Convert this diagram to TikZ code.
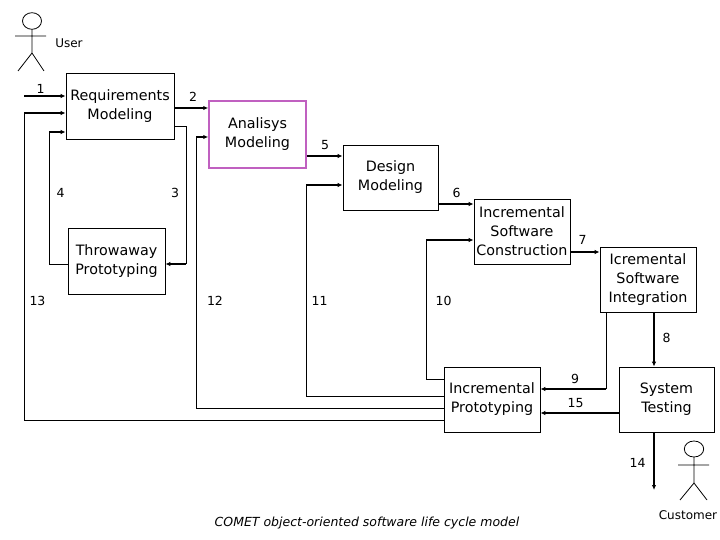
\documentclass[tikz,border=0pt]{standalone}
\usepackage{fontspec}
\setmainfont{DejaVu Sans}
\usepackage{tikz}
\usetikzlibrary{arrows.meta,positioning}
\definecolor{analine}{RGB}{192,96,192}

\begin{document}
\begin{tikzpicture}[x=1pt,y=-1pt,
  box/.style={draw,line width=0.8pt,rectangle,align=center,inner sep=0pt,
    font=\fontsize{14.3}{19}\selectfont},
  flow/.style={line width=1.5pt,-{Latex[length=5pt,width=4.5pt]}},
  link/.style={line width=0.8pt},
  num/.style={font=\fontsize{12.5}{14}\selectfont},
  figure/.style={line width=0.8pt}]
\useasboundingbox (0,0) rectangle (720,540);
% boxes
\node[box,minimum width=108pt,minimum height=66pt] (req) at (120,106) {Requirements\\Modeling};
\node[box,draw=analine,line width=1.5pt,minimum width=97pt,minimum height=67pt] (ana) at (257.5,134.5) {Analisys\\Modeling};
\node[box,minimum width=95pt,minimum height=65pt] (des) at (390.5,177.5) {Design\\Modeling};
\node[box,minimum width=96pt,minimum height=65pt] (isc) at (522,231.5) {Incremental\\Software\\Construction};
\node[box,minimum width=96pt,minimum height=65pt] (isi) at (648,279.5) {Icremental\\Software\\Integration};
\node[box,minimum width=97pt,minimum height=66pt] (thr) at (116.5,261) {Throwaway\\Prototyping};
\node[box,minimum width=96pt,minimum height=65pt] (ip) at (492,399.5) {Incremental\\Prototyping};
\node[box,minimum width=95pt,minimum height=65pt] (st) at (666.5,399.5) {System\\Testing};
% bend points
\coordinate (in1) at (24,96);
\coordinate (c3) at (186,264);
\coordinate (c4) at (49,132);
\coordinate (c9) at (606,389);
\coordinate (c10) at (426,240);
\coordinate (c11) at (306,185);
\coordinate (c12) at (196,137);
\coordinate (c13) at (24,113);
\coordinate (out14) at (654,490);
% forward flow
\draw[flow] (in1) -- (req.west |- in1);
\draw[flow] (req.east |- 0,108) -- (ana.west |- 0,108);
\draw[flow] (ana.east |- 0,156) -- (des.west |- 0,156);
\draw[flow] (des.east |- 0,204) -- (isc.west |- 0,204);
\draw[flow] (isc.east |- 0,252) -- (isi.west |- 0,252);
\draw[flow] (isi.south -| out14) -- (st.north -| out14);
\draw[flow] (st.south -| out14) -- (out14);
\draw[flow] (st.west |- 0,413) -- (ip.east |- 0,413);
% throwaway loop
\draw[link] (req.east |- 0,126) -| (c3);
\draw[flow] (c3) -- (thr.east |- c3);
\draw[link] (thr.west |- c3) -| (c4);
\draw[flow] (c4) -- (req.west |- c4);
% feedback
\draw[link] (isi.south -| c9) |- (c9);
\draw[flow] (c9) -- (ip.east |- c9);
\draw[link] (ip.west |- 0,379) -| (c10);
\draw[flow] (c10) -- (isc.west |- c10);
\draw[link] (ip.west |- 0,396) -| (c11);
\draw[flow] (c11) -- (des.west |- c11);
\draw[link] (ip.west |- 0,408) -| (c12);
\draw[flow] (c12) -- (ana.west |- c12);
\draw[link] (ip.west |- 0,420) -| (c13);
\draw[flow] (c13) -- (req.west |- c13);
% numbers
\node[num] (n1) at (40.5,88.5) {1};
\node[num] (n2) at (193,97) {2};
\node[num] (n3) at (175,192.5) {3};
\node[num] (n4) at (60.5,192.5) {4};
\node[num] (n5) at (325,145) {5};
\node[num] (n6) at (456.5,192.5) {6};
\node[num] (n7) at (582.5,240) {7};
\node[num] (n8) at (666.5,337.5) {8};
\node[num] (n9) at (575,378.5) {9};
\node[num] (n10) at (443.5,301) {10};
\node[num] (n11) at (319.5,301) {11};
\node[num] (n12) at (215,301) {12};
\node[num] (n13) at (37.5,301) {13};
\node[num] (n14) at (637.5,463) {14};
\node[num] (n15) at (575.5,403) {15};
% actors
\draw[figure] (32,21) ellipse (9.5 and 8.3);
\draw[figure] (32,29.3) -- (32,53) (15,36) -- (46,36) (18,71) -- (32,53) -- (44,71);
\draw[figure] (694,449) ellipse (9.7 and 8);
\draw[figure] (694,457) -- (694,483) (678,465) -- (709,465) (680,500) -- (694,483) -- (707,500);
\node[num,font=\fontsize{12}{14}\selectfont] (user) at (69,43) {User};
\node[num,font=\fontsize{12}{14}\selectfont] (cust) at (688,515) {Customer};
% caption
\node[font=\fontsize{12.5}{15}\selectfont\itshape] (cap) at (367,523) {COMET object-oriented software life cycle model};
\end{tikzpicture}
\end{document}
